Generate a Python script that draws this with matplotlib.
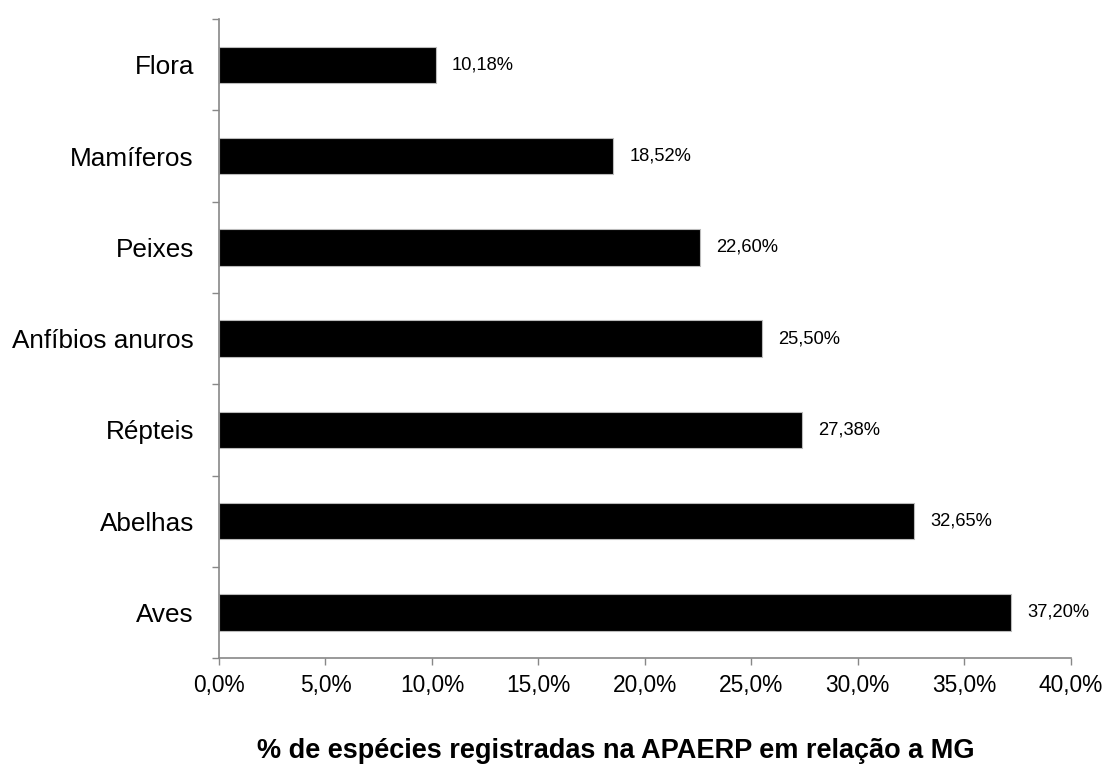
import matplotlib.pyplot as plt
from matplotlib.ticker import FuncFormatter, MultipleLocator

plt.rcParams['font.family'] = ['Liberation Sans', 'DejaVu Sans']

categories = ['Aves', 'Abelhas', 'Répteis', 'Anfíbios anuros', 'Peixes', 'Mamíferos', 'Flora']
values = [37.20, 32.65, 27.38, 25.50, 22.60, 18.52, 10.18]
value_labels = ['37,20%', '32,65%', '27,38%', '25,50%', '22,60%', '18,52%', '10,18%']

fig = plt.figure(figsize=(11.06, 7.67), dpi=100)
ax = fig.add_axes([0.198, 0.142, 0.77, 0.833])

pos = list(range(len(categories)))
ax.barh(pos, values, height=0.4, color='black', edgecolor='#bbbbbb', linewidth=0.8)

# value labels to the right of each bar
for p, v, lab in zip(pos, values, value_labels):
    ax.text(v + 0.75, p, lab, va='center', ha='left', fontsize=13.2)

ax.set_xlim(0, 40)
ax.set_ylim(-0.5, len(categories) - 0.5)
ax.xaxis.set_major_locator(MultipleLocator(5))
ax.xaxis.set_major_formatter(FuncFormatter(lambda x, _: f"{x:.1f}%".replace('.', ',')))

ax.set_yticks(pos)
ax.set_yticklabels(categories, fontsize=18.8)
ax.set_yticks([p - 0.5 for p in pos] + [len(categories) - 0.5], minor=True)
ax.tick_params(axis='y', which='major', length=0, pad=18)
ax.tick_params(axis='y', which='minor', length=5, color='#888888', width=1)
ax.tick_params(axis='x', length=5, color='#888888', width=1, labelsize=16.4, pad=6.3)

for s in ['top', 'right']:
    ax.spines[s].set_visible(False)
for s in ['left', 'bottom']:
    ax.spines[s].set_color('#888888')
    ax.spines[s].set_linewidth(1.2)

fig.text(0.557, 0.004, '% de espécies registradas na APAERP em relação a MG',
         ha='center', va='bottom', fontsize=19.5, fontweight='bold')

plt.savefig('out.png', dpi=100)
plt.close()
